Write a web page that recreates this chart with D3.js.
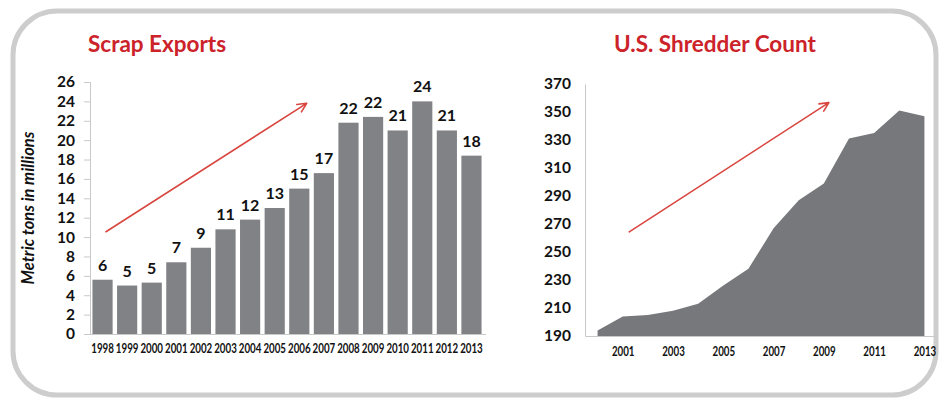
<!DOCTYPE html>
<html>
<head>
<meta charset="utf-8">
<script src="https://cdn.jsdelivr.net/npm/d3@7"></script>
<style>
  html, body { margin: 0; padding: 0; background: #ffffff; }
  svg { display: block; }
  text { font-family: Lato, "Open Sans", sans-serif; }
</style>
</head>
<body>
<svg id="chart" width="940" height="400"></svg>
<script>
// Scrap exports, metric tons in millions
const exportYears = [1998, 1999, 2000, 2001, 2002, 2003, 2004, 2005, 2006, 2007, 2008, 2009, 2010, 2011, 2012, 2013];
const exportValues = [5.6, 5.0, 5.3, 7.4, 8.9, 10.8, 11.8, 13.0, 15.0, 16.6, 21.8, 22.4, 21.0, 24.0, 21.0, 18.4];
const exportTicks = [0, 2, 4, 6, 8, 10, 12, 14, 16, 18, 20, 22, 24, 26];

// Number of shredders operating in the U.S.
const shredderYears = [2000, 2001, 2002, 2003, 2004, 2005, 2006, 2007, 2008, 2009, 2010, 2011, 2012, 2013];
const shredderCounts = [194, 204, 205, 208, 213, 226, 238, 267, 287, 299, 331, 335, 351, 347];
const shredderTicks = [190, 210, 230, 250, 270, 290, 310, 330, 350, 370];
const shredderYearLabels = [2001, 2003, 2005, 2007, 2009, 2011, 2013];

// Trend arrows, given as [year, value] pairs
const exportTrend = [[1998.14, 10.55], [2006.3, 23.8]];
const shredderTrend = [[2001.26, 264.4], [2009.2, 356.7]];

const svg = d3.select("#chart");
const RED = "#cc2229";
const BAR = "#818285";
const AREA = "#77787b";
const AXIS = "#c9c9c9";

// Rounded frame round both panels
svg.append("rect")
  .attr("x", 13).attr("y", 11)
  .attr("width", 923).attr("height", 384)
  .attr("rx", 44).attr("ry", 44)
  .attr("fill", "#ffffff")
  .attr("stroke", "#cdcdcd")
  .attr("stroke-width", 5);

function drawArrow(g, p0, p1) {
  const dx = p1[0] - p0[0], dy = p1[1] - p0[1];
  const a = Math.atan2(dy, dx);
  const len = 10, spread = 0.45;
  const h1 = [p1[0] - len * Math.cos(a - spread), p1[1] - len * Math.sin(a - spread)];
  const h2 = [p1[0] - len * Math.cos(a + spread), p1[1] - len * Math.sin(a + spread)];
  g.append("path")
    .attr("d", `M${p0[0]},${p0[1]}L${p1[0]},${p1[1]}M${h1[0]},${h1[1]}L${p1[0]},${p1[1]}L${h2[0]},${h2[1]}`)
    .attr("fill", "none")
    .attr("stroke", "#d8463f")
    .attr("stroke-width", 1.6)
    .attr("stroke-linecap", "round")
    .attr("stroke-linejoin", "round");
}

// ---------- Left panel: Scrap Exports ----------
{
  const g = svg.append("g");
  const x = d3.scaleBand().domain(exportYears).range([90, 484]).paddingInner(0.18).paddingOuter(0.1);
  const y = d3.scaleLinear().domain([0, 26]).range([334, 82]);
  const xc = d3.scaleLinear()
    .domain([exportYears[0], exportYears[exportYears.length - 1]])
    .range([x(exportYears[0]) + x.bandwidth() / 2, x(exportYears[exportYears.length - 1]) + x.bandwidth() / 2]);

  g.append("text")
    .attr("x", 88).attr("y", 52)
    .attr("fill", RED)
    .attr("font-size", 22.5).attr("font-weight", 700)
    .text("Scrap Exports");

  g.append("text")
    .attr("transform", `translate(34,${(y(0) + y(26)) / 2}) rotate(-90)`)
    .attr("text-anchor", "middle")
    .attr("font-size", 16.5).attr("font-weight", 700).attr("font-style", "italic")
    .attr("fill", "#111")
    .text("Metric tons in millions");

  const yAxis = g.append("g")
    .attr("transform", "translate(90,0)")
    .call(d3.axisLeft(y).tickValues(exportTicks).tickSize(6).tickPadding(9));
  yAxis.select(".domain").attr("stroke", AXIS);
  yAxis.selectAll(".tick line").attr("stroke", AXIS);
  yAxis.selectAll(".tick text")
    .attr("fill", "#111").attr("font-size", 15.5).attr("font-weight", 700)
    .attr("font-family", "Lato, sans-serif");

  g.selectAll("rect.bar")
    .data(exportYears)
    .join("rect")
    .attr("class", "bar")
    .attr("x", d => x(d))
    .attr("width", x.bandwidth())
    .attr("y", (d, i) => y(exportValues[i]))
    .attr("height", (d, i) => y(0) - y(exportValues[i]))
    .attr("fill", BAR);

  g.selectAll("text.value")
    .data(exportYears)
    .join("text")
    .attr("class", "value")
    .attr("x", d => x(d) + x.bandwidth() / 2)
    .attr("y", (d, i) => y(exportValues[i]) - 9)
    .attr("text-anchor", "middle")
    .attr("font-size", 16).attr("font-weight", 700)
    .attr("fill", "#111")
    .text((d, i) => d3.format(".0f")(exportValues[i]));

  const xAxis = g.append("g")
    .attr("transform", `translate(0,${y(0)})`)
    .call(d3.axisBottom(x).tickSize(0).tickPadding(10).tickSizeOuter(0));
  xAxis.select(".domain").attr("stroke", AXIS).attr("d", `M90,0.5H486`);
  xAxis.selectAll(".tick text")
    .attr("fill", "#111").attr("font-size", 12.5).attr("font-weight", 700)
    .attr("font-family", "Lato, sans-serif")
    .attr("transform", "scale(0.78,1)");

  drawArrow(g, [xc(exportTrend[0][0]), y(exportTrend[0][1])], [xc(exportTrend[1][0]), y(exportTrend[1][1])]);
}

// ---------- Right panel: U.S. Shredder Count ----------
{
  const g = svg.append("g");
  const x = d3.scalePoint().domain(shredderYears).range([585, 937]).padding(0.5);
  const y = d3.scaleLinear().domain([190, 370]).range([336, 84]);
  const xc = d3.scaleLinear()
    .domain([shredderYears[0], shredderYears[shredderYears.length - 1]])
    .range([x(shredderYears[0]), x(shredderYears[shredderYears.length - 1])]);

  g.append("text")
    .attr("x", 614).attr("y", 52)
    .attr("fill", RED)
    .attr("font-size", 22.5).attr("font-weight", 700)
    .text("U.S. Shredder Count");

  const area = d3.area()
    .x((d, i) => x(shredderYears[i]))
    .y0(y(190))
    .y1(d => y(d));
  g.append("path")
    .datum(shredderCounts)
    .attr("d", area)
    .attr("fill", AREA);

  const yAxis = g.append("g")
    .attr("transform", "translate(585,0)")
    .call(d3.axisLeft(y).tickValues(shredderTicks).tickSize(0).tickPadding(14));
  yAxis.select(".domain").attr("stroke", AXIS);
  yAxis.selectAll(".tick text")
    .attr("fill", "#111").attr("font-size", 15.5).attr("font-weight", 700)
    .attr("font-family", "Lato, sans-serif");

  const xAxis = g.append("g")
    .attr("transform", `translate(0,${y(190)})`)
    .call(d3.axisBottom(x).tickValues(shredderYearLabels).tickSize(0).tickPadding(11).tickSizeOuter(0));
  xAxis.select(".domain").attr("stroke", AXIS);
  xAxis.selectAll(".tick text")
    .attr("fill", "#111").attr("font-size", 12.5).attr("font-weight", 700)
    .attr("font-family", "Lato, sans-serif")
    .attr("transform", "scale(0.78,1)");

  drawArrow(g, [xc(shredderTrend[0][0]), y(shredderTrend[0][1])], [xc(shredderTrend[1][0]), y(shredderTrend[1][1])]);
}
</script>
</body>
</html>
